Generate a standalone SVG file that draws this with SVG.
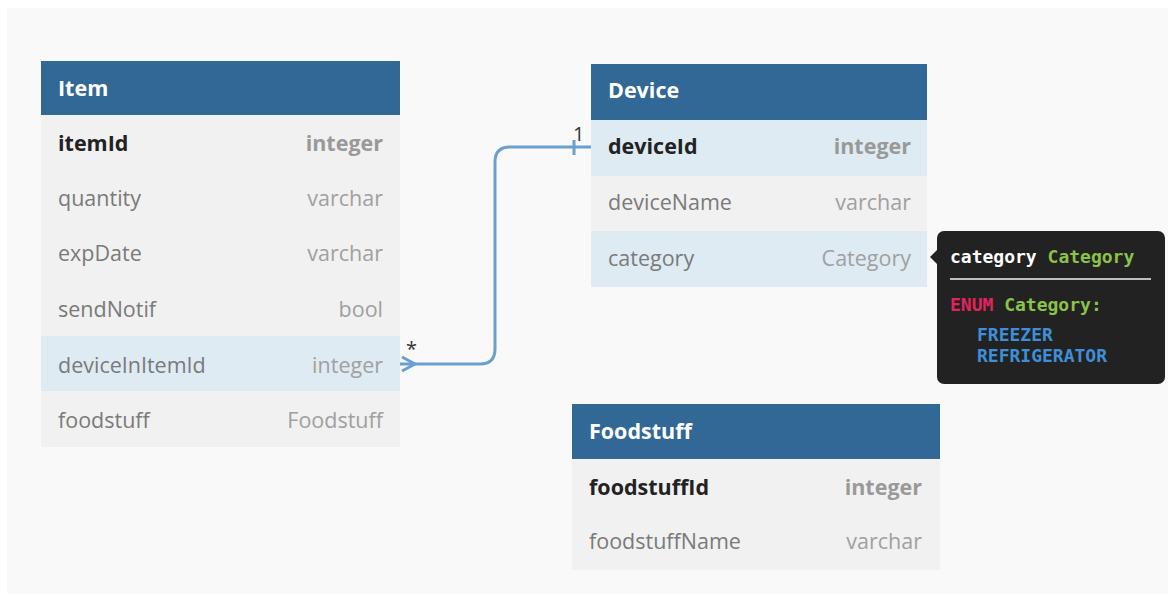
<svg xmlns="http://www.w3.org/2000/svg" width="1175" height="599" viewBox="0 0 1175 599">
<style>
.hdr{fill:#316896}
.row{fill:#f1f1f1}
.hl{fill:#deebf3}
.title{font-family:"Open Sans","Noto Sans",sans-serif;font-weight:700;font-size:21.5px;fill:#fff;dominant-baseline:central}
.pk{font-family:"Open Sans","Noto Sans",sans-serif;font-weight:700;font-size:21.5px;fill:#222;dominant-baseline:central}
.pkt{font-family:"Open Sans","Noto Sans",sans-serif;font-weight:700;font-size:21.5px;fill:#999;dominant-baseline:central;text-anchor:end}
.f{font-family:"Open Sans","Noto Sans",sans-serif;font-size:21.5px;fill:#7a7a7a;dominant-baseline:central}
.t{font-family:"Open Sans","Noto Sans",sans-serif;font-size:21.5px;fill:#a0a0a0;dominant-baseline:central;text-anchor:end}
.mono{font-family:"DejaVu Sans Mono","Liberation Mono",monospace;font-weight:700;font-size:18px;dominant-baseline:central}
.conn{fill:none;stroke:#6a9fd0;stroke-width:3}
.lbl{font-family:"Open Sans","Noto Sans",sans-serif;font-size:20px;fill:#333}
</style>
<rect x="0" y="0" width="1175" height="599" fill="#ffffff"/>
<rect x="7" y="8" width="1161" height="586" fill="#f9f9f9"/>

<g id="connectors">
<path class="conn" d="M400,364 H480 Q495,364 495,349 V162 Q495,147 510,147 H591"/>
<path class="conn" d="M402,357 L415,364 L402,371"/>
<line class="conn" x1="574" y1="140" x2="574" y2="155"/>
<text class="lbl" x="406" y="356">*</text>
<text class="lbl" x="573" y="141">1</text>
</g>

<g id="item">
<rect class="hdr" x="41" y="61" width="359" height="54"/>
<text class="title" x="58" y="87">Item</text>
<rect class="row" x="41" y="115" width="359" height="332"/>
<rect class="hl" x="41" y="336" width="359" height="55"/>
<text class="pk" x="58" y="142">itemId</text><text class="pkt" x="383" y="142">integer</text>
<text class="f" x="58" y="197">quantity</text><text class="t" x="383" y="197">varchar</text>
<text class="f" x="58" y="252">expDate</text><text class="t" x="383" y="252">varchar</text>
<text class="f" x="58" y="308">sendNotif</text><text class="t" x="383" y="308">bool</text>
<text class="f" x="58" y="364">deviceInItemId</text><text class="t" x="383" y="364">integer</text>
<text class="f" x="58" y="419">foodstuff</text><text class="t" x="383" y="419">Foodstuff</text>
</g>

<g id="device">
<rect class="hdr" x="591" y="64" width="336" height="56"/>
<text class="title" x="608" y="89">Device</text>
<rect class="hl" x="591" y="120" width="336" height="56"/>
<rect class="row" x="591" y="176" width="336" height="55"/>
<rect class="hl" x="591" y="231" width="336" height="56"/>
<text class="pk" x="608" y="145">deviceId</text><text class="pkt" x="911" y="145">integer</text>
<text class="f" x="608" y="201">deviceName</text><text class="t" x="911" y="201">varchar</text>
<text class="f" x="608" y="257">category</text><text class="t" x="911" y="257">Category</text>
</g>

<g id="foodstuff">
<rect class="hdr" x="572" y="404" width="368" height="55"/>
<text class="title" x="589" y="430">Foodstuff</text>
<rect class="row" x="572" y="459" width="368" height="111"/>
<text class="pk" x="589" y="486">foodstuffId</text><text class="pkt" x="922" y="486">integer</text>
<text class="f" x="589" y="540">foodstuffName</text><text class="t" x="922" y="540">varchar</text>
</g>

<g id="tooltip">
<rect x="937" y="231" width="228" height="153" rx="7" fill="#222222"/>
<path d="M937,250 L930,257 L937,264 Z" fill="#222222"/>
<text class="mono" x="950" y="256" fill="#ffffff">category <tspan fill="#8bc34a">Category</tspan></text>
<line x1="950" y1="279" x2="1151" y2="279" stroke="#bdbdbd" stroke-width="2"/>
<text class="mono" x="950" y="304" fill="#e0245e">ENUM <tspan fill="#8bc34a">Category:</tspan></text>
<text class="mono" x="977" y="334" fill="#3f8fd8">FREEZER</text>
<text class="mono" x="977" y="355" fill="#3f8fd8">REFRIGERATOR</text>
</g>
</svg>
